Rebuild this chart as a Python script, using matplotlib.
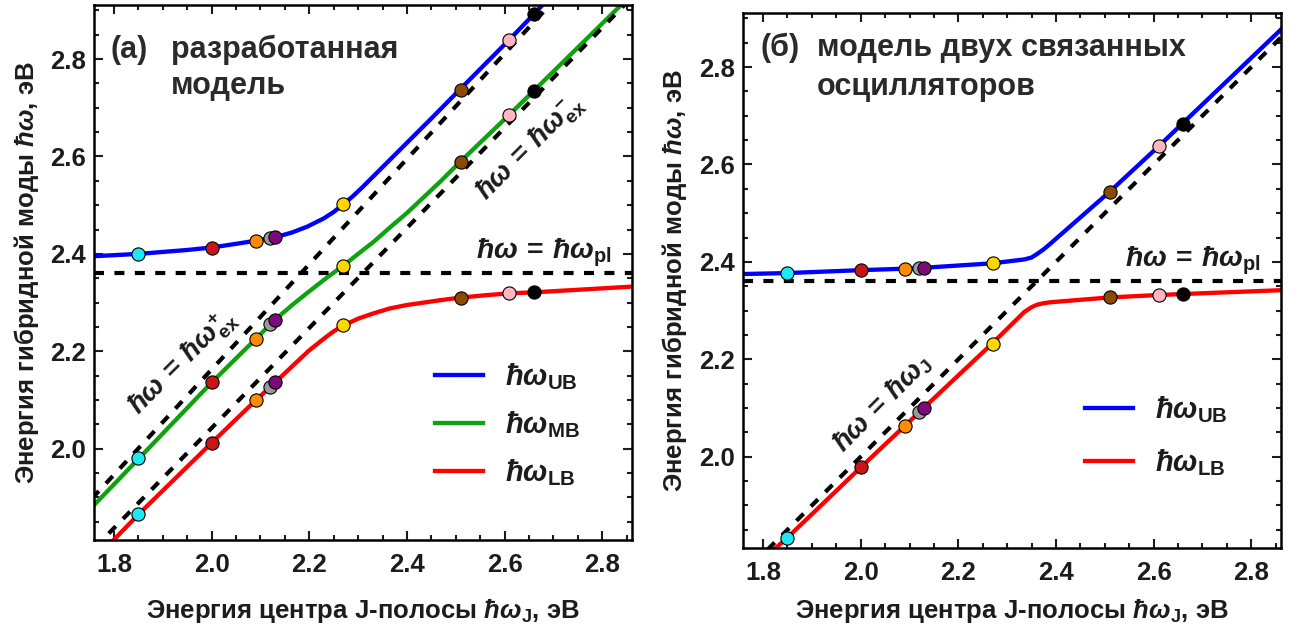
import matplotlib
matplotlib.use("Agg")
import matplotlib.pyplot as plt
from matplotlib.ticker import MultipleLocator, FormatStrFormatter
from matplotlib.lines import Line2D

plt.rcParams['font.family'] = ['Liberation Sans', 'DejaVu Sans']
plt.rcParams['font.weight'] = 'bold'
plt.rcParams['axes.labelweight'] = 'bold'
plt.rcParams['mathtext.fontset'] = 'custom'
plt.rcParams['mathtext.rm'] = 'Liberation Sans:bold'
plt.rcParams['mathtext.bf'] = 'Liberation Sans:bold'
plt.rcParams['mathtext.it'] = 'Liberation Sans:bold:italic'
plt.rcParams['axes.linewidth'] = 1.8

TXT = '#1c1c1c'

# энергии центра J-полосы для образцов (точки)
w_j = [1.85, 2.00, 2.09, 2.12, 2.13, 2.27, 2.51, 2.61, 2.66]
pt_colors = ['#1ee8f2', '#c81616', '#ff8c00', '#9a9a9a', '#7d0a7d',
             '#ffd700', '#8b4a00', '#ffb6c1', '#000000']

# (а) разработанная модель: три ветви
ub_pts_a = [2.400, 2.413, 2.427, 2.432, 2.434, 2.502, 2.737, 2.840, 2.892]
mb_pts_a = [1.980, 2.136, 2.225, 2.256, 2.265, 2.376, 2.588, 2.686, 2.735]
lb_pts_a = [1.866, 2.012, 2.099, 2.126, 2.136, 2.253, 2.310, 2.319, 2.321]

ub_x_a = [1.755, 1.851, 1.95, 2.00, 2.059, 2.09, 2.13, 2.165, 2.196, 2.23, 2.25,
          2.27, 2.29, 2.31, 2.35, 2.40, 2.45, 2.508, 2.61, 2.66, 2.70]
ub_y_a = [2.395, 2.400, 2.408, 2.413, 2.422, 2.427, 2.434, 2.444, 2.456, 2.473, 2.486,
          2.502, 2.519, 2.538, 2.578, 2.628, 2.678, 2.737, 2.840, 2.892, 2.935]
mb_x_a = [1.755, 1.851, 2.00, 2.09, 2.13, 2.165, 2.196, 2.237, 2.27, 2.30, 2.332,
          2.365, 2.40, 2.469, 2.508, 2.61, 2.66, 2.86]
mb_y_a = [1.880, 1.980, 2.136, 2.225, 2.265, 2.295, 2.320, 2.352, 2.376, 2.400, 2.425,
          2.454, 2.484, 2.549, 2.588, 2.686, 2.735, 2.932]
lb_x_a = [1.79, 1.851, 2.00, 2.09, 2.13, 2.17, 2.20, 2.23, 2.25, 2.27, 2.30, 2.332,
          2.365, 2.40, 2.469, 2.508, 2.56, 2.61, 2.66, 2.865]
lb_y_a = [1.803, 1.866, 2.012, 2.099, 2.136, 2.174, 2.202, 2.226, 2.241, 2.253, 2.267,
          2.278, 2.288, 2.295, 2.305, 2.310, 2.315, 2.319, 2.321, 2.333]

w_pl = 2.36
ex_plus_x = [1.755, 2.70]
ex_plus_y = [1.898, 2.919]
ex_minus_x = [1.76, 2.865]
ex_minus_y = [1.796, 2.931]

# (б) модель двух связанных осцилляторов
ub_pts_b = [2.377, 2.383, 2.386, 2.388, 2.388, 2.397, 2.544, 2.637, 2.684]
lb_pts_b = [1.833, 1.978, 2.063, 2.091, 2.101, 2.232, 2.327, 2.332, 2.334]

ub_x_b = [1.755, 1.849, 2.00, 2.09, 2.13, 2.269, 2.335, 2.35, 2.361, 2.375, 2.387,
          2.51, 2.61, 2.659, 2.865]
ub_y_b = [2.375, 2.377, 2.383, 2.386, 2.388, 2.397, 2.405, 2.409, 2.416, 2.426, 2.436,
          2.544, 2.637, 2.684, 2.881]
lb_x_b = [1.815, 1.849, 2.00, 2.09, 2.13, 2.269, 2.335, 2.350, 2.361, 2.374, 2.387,
          2.51, 2.61, 2.659, 2.865]
lb_y_b = [1.803, 1.833, 1.978, 2.063, 2.101, 2.232, 2.297, 2.307, 2.312, 2.315, 2.317,
          2.327, 2.332, 2.334, 2.342]
wj_line = [1.75, 2.87]

XLIM = (1.759, 2.861)
YLIM = (1.8125, 2.911)
DASH = (0, (2.4, 2.5))


def style_axes(ax):
    ax.set_xlim(*XLIM)
    ax.set_ylim(*YLIM)
    ax.xaxis.set_major_locator(MultipleLocator(0.2))
    ax.xaxis.set_minor_locator(MultipleLocator(0.05))
    ax.yaxis.set_major_locator(MultipleLocator(0.2))
    ax.yaxis.set_minor_locator(MultipleLocator(0.05))
    ax.xaxis.set_major_formatter(FormatStrFormatter('%.1f'))
    ax.yaxis.set_major_formatter(FormatStrFormatter('%.1f'))
    ax.tick_params(which='both', direction='in', top=True, right=True,
                   width=1.5, colors=TXT, labelsize=18.5)
    ax.tick_params(which='major', length=6.5)
    ax.tick_params(which='minor', length=3.5)
    ax.tick_params(axis='x', pad=9)
    ax.tick_params(axis='y', pad=6)
    ax.set_xlabel(r'Энергия центра J-полосы $\hbar\omega_{\mathrm{J}}$, эВ',
                  fontsize=18.5, color=TXT)
    ax.set_ylabel(r'Энергия гибридной моды $\hbar\omega$, эВ',
                  fontsize=18.5, color=TXT)


def draw_points(ax, ys):
    for x, y, c in zip(w_j, ys, pt_colors):
        ax.plot(x, y, 'o', ms=9.5, mfc=c, mec='black', mew=0.8, zorder=5)


fig = plt.figure(figsize=(13.02, 6.31), dpi=100)
ax1 = fig.add_axes([0.0722, 0.1442, 0.4132, 0.8479])
ax2 = fig.add_axes([0.5707, 0.1315, 0.4132, 0.8479])

# ---- (а)
ax1.plot(ub_x_a, ub_y_a, color='#0000ff', lw=3.1, zorder=2)
ax1.plot(mb_x_a, mb_y_a, color='#0ea30e', lw=3.1, zorder=2)
ax1.plot(lb_x_a, lb_y_a, color='#ff0000', lw=3.1, zorder=2)
ax1.axhline(w_pl, color='black', lw=3, ls=DASH, zorder=3)
ax1.plot(ex_plus_x, ex_plus_y, color='black', lw=3, ls=DASH, zorder=3)
ax1.plot(ex_minus_x, ex_minus_y, color='black', lw=3, ls=DASH, zorder=3)
for ys in (ub_pts_a, mb_pts_a, lb_pts_a):
    draw_points(ax1, ys)
style_axes(ax1)
ax1.yaxis.set_label_coords(-0.098, 0.5)
ax1.xaxis.set_label_coords(0.5, -0.106)

ax1.text(0.030, 0.916, '(а)', transform=ax1.transAxes, fontsize=22,
         color='#2a2a2a', va='center', ha='left')
ax1.text(0.143, 0.916, 'разработанная', transform=ax1.transAxes, fontsize=22,
         color='#2a2a2a', va='center', ha='left')
ax1.text(0.143, 0.8486, 'модель', transform=ax1.transAxes, fontsize=22,
         color='#2a2a2a', va='center', ha='left')
ax1.text(0.8355, 0.536, r'$\hbar\omega\,=\,\hbar\omega_{\mathrm{pl}}$',
         transform=ax1.transAxes, fontsize=20.5, color=TXT, ha='center', va='center')
ax1.text(0.812, 0.733, r'$\hbar\omega\,=\,\hbar\omega_{\mathrm{ex}}^{-}$',
         transform=ax1.transAxes, fontsize=20, color=TXT, ha='center', va='center',
         rotation=45)
ax1.text(0.165, 0.331, r'$\hbar\omega\,=\,\hbar\omega_{\mathrm{ex}}^{+}$',
         transform=ax1.transAxes, fontsize=20, color=TXT, ha='center', va='center',
         rotation=45)

h_a = [Line2D([], [], color='#0000ff', lw=3.1),
       Line2D([], [], color='#0ea30e', lw=3.1),
       Line2D([], [], color='#ff0000', lw=3.1)]
leg1 = ax1.legend(h_a, [r'$\hbar\omega_{\mathrm{UB}}$', r'$\hbar\omega_{\mathrm{MB}}$',
                        r'$\hbar\omega_{\mathrm{LB}}$'],
                  loc='center left', bbox_to_anchor=(0.634, 0.216), frameon=False,
                  fontsize=21, handlelength=1.65, handletextpad=0.75,
                  labelspacing=0.6, borderpad=0, borderaxespad=0)
for t in leg1.get_texts():
    t.set_color(TXT)

# ---- (б)
ax2.plot(ub_x_b, ub_y_b, color='#0000ff', lw=3.1, zorder=2)
ax2.plot(lb_x_b, lb_y_b, color='#ff0000', lw=3.1, zorder=2)
ax2.axhline(w_pl, color='black', lw=3, ls=DASH, zorder=3)
ax2.plot(wj_line, wj_line, color='black', lw=3, ls=DASH, zorder=3)
for ys in (ub_pts_b, lb_pts_b):
    draw_points(ax2, ys)
style_axes(ax2)
ax2.yaxis.set_label_coords(-0.100, 0.5)
ax2.xaxis.set_label_coords(0.5, -0.091)

ax2.text(0.032, 0.935, '(б)', transform=ax2.transAxes, fontsize=22,
         color='#2a2a2a', va='center', ha='left')
ax2.text(0.1375, 0.935, 'модель двух связанных', transform=ax2.transAxes,
         fontsize=22, color='#2a2a2a', va='center', ha='left')
ax2.text(0.1375, 0.862, 'осцилляторов', transform=ax2.transAxes, fontsize=22,
         color='#2a2a2a', va='center', ha='left')
ax2.text(0.8355, 0.536, r'$\hbar\omega\,=\,\hbar\omega_{\mathrm{pl}}$',
         transform=ax2.transAxes, fontsize=20.5, color=TXT, ha='center', va='center')
ax2.text(0.260, 0.271, r'$\hbar\omega\,=\,\hbar\omega_{\mathrm{J}}$',
         transform=ax2.transAxes, fontsize=20, color=TXT, ha='center', va='center',
         rotation=45)

h_b = [Line2D([], [], color='#0000ff', lw=3.1),
       Line2D([], [], color='#ff0000', lw=3.1)]
leg2 = ax2.legend(h_b, [r'$\hbar\omega_{\mathrm{UB}}$', r'$\hbar\omega_{\mathrm{LB}}$'],
                  loc='center left', bbox_to_anchor=(0.636, 0.209), frameon=False,
                  fontsize=21, handlelength=1.65, handletextpad=0.75,
                  labelspacing=0.75, borderpad=0, borderaxespad=0)
for t in leg2.get_texts():
    t.set_color(TXT)

fig.savefig('out.png', dpi=100)
